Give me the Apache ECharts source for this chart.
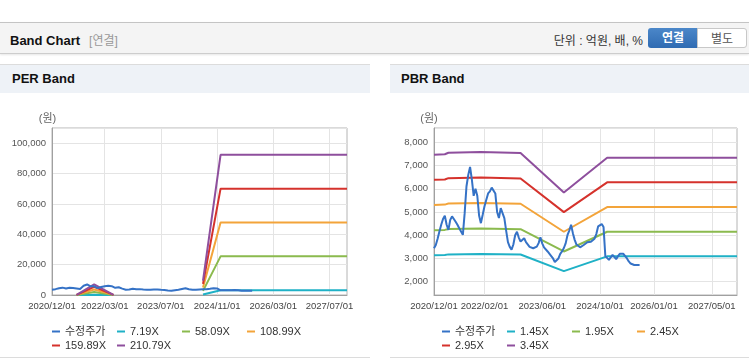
<!DOCTYPE html>
<html>
<head>
<meta charset="utf-8">
<script src="https://cdn.jsdelivr.net/npm/echarts@6/dist/echarts.min.js"></script>
<style>
  body { margin: 0; width: 749px; height: 364px; background: #fff; position: relative; overflow: hidden;
         font-family: "Liberation Sans", Arial, "Noto Sans CJK KR", sans-serif; }
  .topbar { position: absolute; left: 0; top: 22px; width: 749px; height: 30px; background: #f4f4f4;
            border-top: 1px solid #c4c4c4; border-bottom: 1px solid #cdcdcd; box-shadow: 0 1px 2px rgba(0,0,0,0.10); }
  .title { position: absolute; left: 10px; top: 8px; font-size: 13px; font-weight: bold; color: #111; }
  .title span { font-weight: normal; color: #999; font-size: 12px; margin-left: 9px; }
  .unit { position: absolute; right: 106px; top: 8px; font-size: 12px; color: #333; }
  .btn { position: absolute; top: 5px; height: 20px; line-height: 20px; text-align: center; font-size: 12px; box-sizing: border-box; }
  .btn.on { left: 648px; width: 50px; background: linear-gradient(#4b87c9, #2f6bb2); color: #fff; font-weight: bold; border-radius: 3px 0 0 3px; }
  .btn.off { left: 697px; width: 50px; background: #fff; color: #555; border: 1px solid #c8c8c8; border-radius: 0 3px 3px 0; }
  .panel { position: absolute; top: 64px; height: 292px; border-top: 1px solid #dcdcdc; border-bottom: 1px solid #dcdcdc; }
  .phead { height: 28px; background: #eef2f7; font-size: 13px; font-weight: bold; line-height: 28px; padding-left: 12px; color: #111; }
  .chart { position: absolute; top: 28px; left: 0; height: 263px; }
</style>
</head>
<body>
<div class="topbar">
  <div class="title">Band Chart<span>[연결]</span></div>
  <div class="unit">단위 : 억원, 배, %</div>
  <div class="btn on">연결</div>
  <div class="btn off">별도</div>
</div>
<div class="panel" style="left:0;width:370px;">
  <div class="phead">PER Band</div>
  <div class="chart" id="per" style="width:370px;"></div>
</div>
<div class="panel" style="left:390px;width:359px;">
  <div class="phead" style="padding-left:11px;">PBR Band</div>
  <div class="chart" id="pbr" style="width:359px;"></div>
</div>
<script>
// semi-monthly date categories, 2020/12/01 .. 2027/12/01
const dates = [];
for (let y = 2020, m = 12; y < 2027 || (y === 2027 && m <= 12); ) {
  const mm = String(m).padStart(2, '0');
  dates.push(y + '/' + mm + '/01');
  if (!(y === 2027 && m === 12)) dates.push(y + '/' + mm + '/16');
  m++;
  if (m > 12) { m = 1; y++; }
}

const perTicks = ['2020/12/01', '2022/03/01', '2023/07/01', '2024/11/01', '2026/03/01', '2027/07/01'];
const pbrTicks = ['2020/12/01', '2022/02/01', '2023/06/01', '2024/10/01', '2026/01/01', '2027/05/01'];

// 수정주가, one value per half month from 2020/12/01
const price = [
  3440, 3580, 3850, 4160, 4450, 4700, 4840, 4450, 4230, 4660,
  4810, 4700, 4580, 4450, 4300, 4160, 4015, 4950, 6100, 6600,
  6940, 6390, 5700, 6000, 5700, 4850, 4520, 4880, 5250, 5530,
  5800, 5890, 6050, 6100, 5800, 5000, 4740, 5170, 5100, 4740,
  4200, 3700, 3500, 3380, 3600, 4000, 4150, 3900, 3730, 3800,
  3870, 3700, 3660, 3500, 3480, 3440, 3480, 3510, 3660, 3910,
  3650, 3480, 3400, 3300, 3230, 3100, 3000, 2850, 2800, 3000,
  3200, 3300, 3450, 3650, 4000, 4200, 4450, 4090, 3800, 3600,
  3520, 3480, 3500, 3580, 3650, 3700, 3730, 3720, 3730, 3850,
  4050, 4380, 4450, 4480, 4350, 3100, 3080, 2940, 3050, 3150,
  3120, 2970, 3100, 3200, 3250, 3200, 3150, 3000, 2870, 2780,
  2720, 2720, 2720, 2720, 2720
];

// PER band lines ('-' = no band)
const perBandDates = ['2021/07/01', '2021/12/01', '2022/05/16', '2023/06/01', '2024/07/01', '2024/12/01', '2027/12/01'];
const per719   = [5,   240,  5,   '-', 330,  3150,  3150];
const per5809  = [40,  1950, 40,  '-', 2700, 25450, 25450];
const per10899 = [80,  3650, 80,  '-', 5000, 47750, 47750];
const per15989 = [110, 5350, 110, '-', 7300, 70050, 70050];
const per21079 = [150, 7050, 150, '-', 9400, 92350, 92350];

// PBR band lines
const pbrBandDates = ['2020/12/01', '2021/03/01', '2021/04/01', '2022/01/01', '2022/12/01', '2023/12/01', '2024/12/01', '2027/12/01'];
const pbr145 = [3140, 3150, 3175, 3190, 3170, 2455, 3090, 3090];
const pbr195 = [4220, 4230, 4270, 4290, 4260, 3300, 4150, 4150];
const pbr245 = [5300, 5320, 5365, 5390, 5355, 4150, 5215, 5215];
const pbr295 = [6390, 6400, 6460, 6490, 6445, 4995, 6280, 6280];
const pbr345 = [7470, 7490, 7555, 7590, 7540, 5840, 7340, 7340];

const perNames = ['수정주가', '7.19X', '58.09X', '108.99X', '159.89X', '210.79X'];
const pbrNames = ['수정주가', '1.45X', '1.95X', '2.45X', '2.95X', '3.45X'];
const colors = ['#3572c6', '#1fb1c6', '#8bba4e', '#f3a43a', '#d5322c', '#8e4f9d'];

const FONT = '"Liberation Sans", Arial, "Noto Sans CJK KR", sans-serif';

function line(name, data, color, z) {
  return {
    name: name, type: 'line', data: data, z: z || 2,
    showSymbol: false, symbol: 'none',
    itemStyle: { color: color },
    lineStyle: { color: color, width: 2 },
    emphasis: { disabled: true }
  };
}

// legend laid out as a 4-column table: one vertical legend per column
function legends(names) {
  const cols = [[names[0], names[4]], [names[1], names[5]], [names[2]], [names[3]]];
  return cols.map((c, k) => ({
    orient: 'vertical', left: 52 + k * 65, top: 233, padding: 0, itemGap: 3,
    itemWidth: 8, itemHeight: 2, icon: 'rect', data: c,
    textStyle: { fontSize: 11, color: '#333', fontFamily: FONT }
  }));
}

function makeOption(o) {
  const isTick = (i, v) => o.ticks.indexOf(v) >= 0;
  const bands = o.bands.map((arr, k) =>
    line(o.names[k + 1], o.bandDates.map((d, i) => [d, arr[i]]), colors[k + 1]));
  return {
    animation: false,
    textStyle: { fontFamily: FONT },
    grid: { left: o.left, right: o.right, top: 35, bottom: 61, show: true, borderColor: '#b4b4b4', borderWidth: 1 },
    legend: legends(o.names),
    xAxis: {
      type: 'category', data: dates, boundaryGap: false,
      axisLine: { lineStyle: { color: '#a0a0a0' } },
      axisTick: { show: false, interval: isTick },
      axisLabel: { interval: isTick, color: '#444', fontSize: 9.5, margin: 7 },
      splitLine: { show: true, interval: isTick, lineStyle: { color: '#e4e4e4' } }
    },
    yAxis: Object.assign({
      type: 'value', name: '(원)', nameGap: 4,
      nameTextStyle: { color: '#666', fontSize: 11, align: 'center', padding: [0, o.namePad, 0, 0] },
      axisLine: { show: true, lineStyle: { color: '#a0a0a0' } },
      axisTick: { show: false },
      axisLabel: { color: '#555', fontSize: 9.5, margin: 6, showMinLabel: o.showMin, showMaxLabel: false },
      splitLine: { lineStyle: { color: '#e4e4e4' } }
    }, o.y),
    series: bands.concat([line(o.names[0], price, colors[0], 3)])
  };
}

echarts.init(document.getElementById('per')).setOption(makeOption({
  left: 52, right: 23, ticks: perTicks, names: perNames, namePad: 9, showMin: true,
  y: { min: 0, max: 110000, interval: 20000 },
  bandDates: perBandDates, bands: [per719, per5809, per10899, per15989, per21079]
}));

echarts.init(document.getElementById('pbr')).setOption(makeOption({
  left: 44, right: 12, ticks: pbrTicks, names: pbrNames, namePad: 10, showMin: false,
  y: { min: 1425, max: 8620, splitNumber: 7 },
  bandDates: pbrBandDates, bands: [pbr145, pbr195, pbr245, pbr295, pbr345]
}));
</script>
</body>
</html>
